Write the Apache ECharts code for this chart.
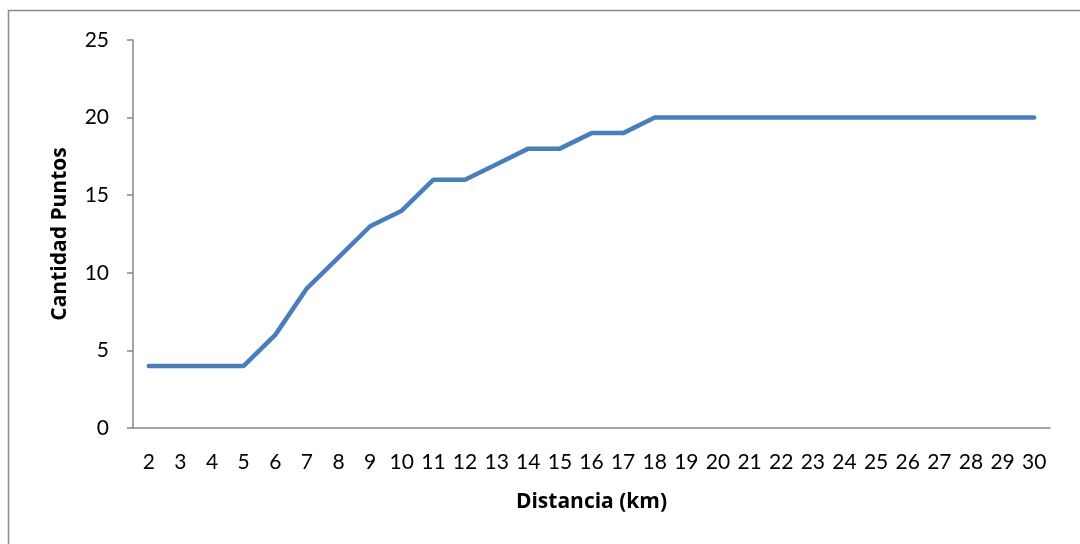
<!DOCTYPE html>
<html>
<head>
    <meta charset="utf-8">
    <script src="https://cdn.jsdelivr.net/npm/echarts@6/dist/echarts.min.js"></script>
    <style>
        html, body { margin: 0; padding: 0; background: #fff; }
    </style>
</head>
<body>
<div id="main" style="width: 1080px;height:544px;"></div>

<script>
    // distancia (km) y cantidad de puntos
    var distancias = ['2', '3', '4', '5', '6', '7', '8', '9', '10', '11', '12', '13', '14', '15', '16',
        '17', '18', '19', '20', '21', '22', '23', '24', '25', '26', '27', '28', '29', '30'];
    var puntos = [4, 4, 4, 4, 6, 9, 11, 13, 14, 16, 16, 17, 18, 18, 19,
        19, 20, 20, 20, 20, 20, 20, 20, 20, 20, 20, 20, 20, 20];
    var yMin = 0, yMax = 25, yPaso = 5;

    var myChart = echarts.init(document.getElementById('main'));

    var fuente = 'Lato, "Open Sans", sans-serif';
    var fuenteTitulo = '"Open Sans", Lato, sans-serif';

    option = {
        animation: false,
        backgroundColor: '#fff',
        graphic: [{
            type: 'rect',
            shape: {x: 8.5, y: 10.5, width: 1100, height: 600},
            style: {fill: 'none', stroke: '#8c8c8c', lineWidth: 1.5},
            silent: true
        }],
        grid: {
            left: 133,
            right: 30,
            top: 40,
            bottom: 116
        },
        xAxis: {
            type: 'category',
            data: distancias,
            boundaryGap: true,
            name: 'Distancia (km)',
            nameLocation: 'middle',
            nameGap: 64,
            nameTextStyle: {
                color: '#000',
                fontFamily: fuenteTitulo,
                fontSize: 21,
                fontWeight: 'bold'
            },
            axisLine: {lineStyle: {color: '#868686', width: 1.5}},
            axisTick: {show: false},
            axisLabel: {
                interval: 0,
                margin: 24,
                color: '#000',
                fontFamily: fuente,
                fontSize: 21
            },
            splitLine: {show: false}
        },
        yAxis: {
            type: 'value',
            min: yMin,
            max: yMax,
            interval: yPaso,
            name: 'Cantidad Puntos',
            nameLocation: 'middle',
            nameGap: 62,
            nameTextStyle: {
                color: '#000',
                fontFamily: fuenteTitulo,
                fontSize: 21,
                fontWeight: 'bold'
            },
            axisLine: {show: true, lineStyle: {color: '#868686', width: 1.5}},
            axisTick: {show: true, length: 6, lineStyle: {color: '#868686', width: 1.5}},
            axisLabel: {
                margin: 24,
                color: '#000',
                fontFamily: fuente,
                fontSize: 21
            },
            splitLine: {show: false}
        },
        series: [{
            name: 'Cantidad Puntos',
            type: 'line',
            data: puntos,
            symbol: 'none',
            lineStyle: {color: '#4a7ebb', width: 4.5, cap: 'round', join: 'round'}
        }]
    };
    myChart.setOption(option);
</script>

</body>
</html>
